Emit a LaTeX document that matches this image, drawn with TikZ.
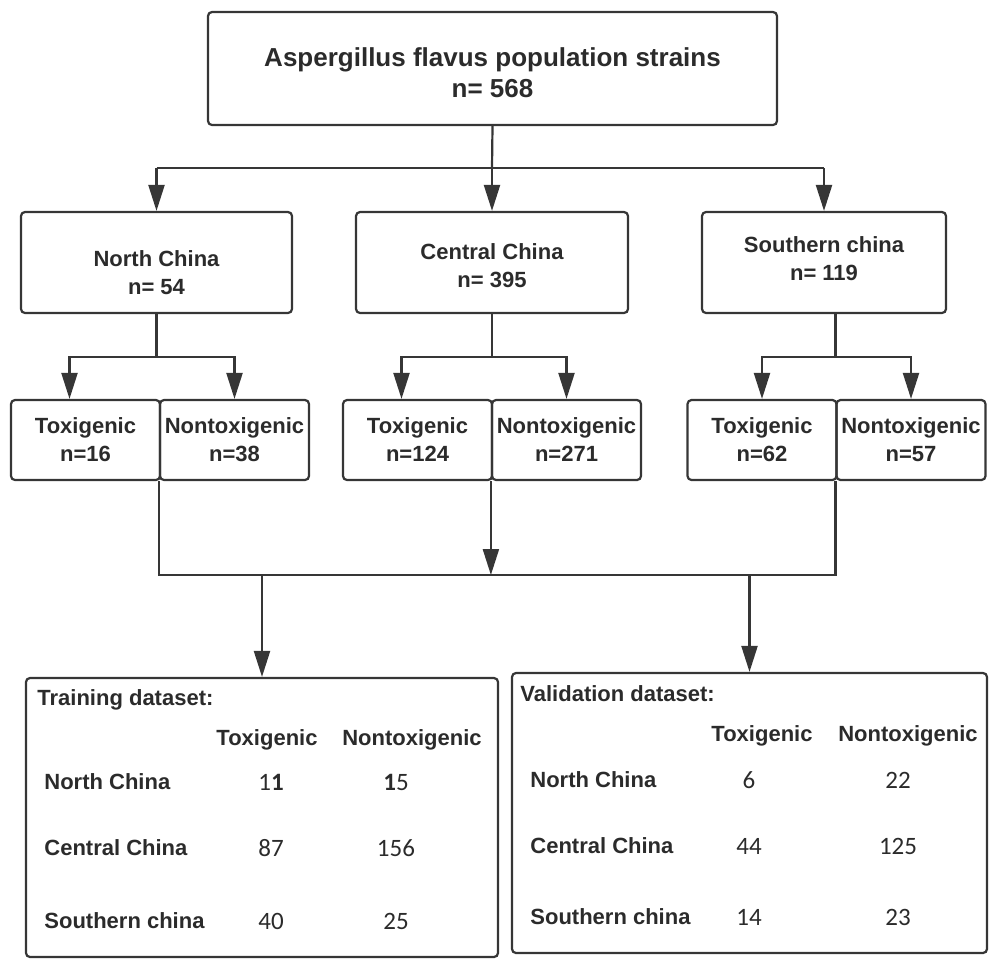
\documentclass[tikz,border=0pt]{standalone}
\usepackage{fontspec}
\setmainfont{Liberation Sans}
\newfontfamily\numfont{Carlito}
\definecolor{ink}{HTML}{2B2B2B}
\definecolor{frame}{HTML}{363636}
\usetikzlibrary{arrows.meta}

\begin{document}
\begin{tikzpicture}[x=0.5pt,y=-0.5pt,
    box/.style={draw=frame,line width=1.1pt,rounded corners=2pt,align=center,text=ink,
      font=\bfseries\fontsize{11}{14}\selectfont,inner sep=0pt},
    sub/.style={box,minimum width=74.5pt,minimum height=40pt},
    region/.style={box,minimum height=50.5pt},
    link/.style={draw=frame,line width=1.1pt},
    flow/.style={link,-{Triangle[length=13pt,width=8pt]}},
    lab/.style={text=ink,font=\bfseries\fontsize{11}{13}\selectfont,inner sep=0pt},
    num/.style={text=ink,font=\numfont\fontsize{12.5}{14}\selectfont,inner sep=0pt}]
        \useasboundingbox (0,0) rectangle (1000,970);
        % top level
        \node[box,minimum width=284.5pt,minimum height=56.5pt] (pop) at (492.5,68.5) {};
        \node[lab,align=center,font=\bfseries\fontsize{13}{15.5}\selectfont] (poptxt) at (492.5,73)
          {Aspergillus flavus population strains\\n= 568};
        \node[region,minimum width=135.5pt] (north) at (156.5,262.5) {};
        \node[region,minimum width=136pt] (central) at (492,262.5) {};
        \node[region,minimum width=122pt] (south) at (824,262.5) {};
        \node[lab,align=center,font=\bfseries\fontsize{11}{14}\selectfont] (northtxt) at (156.5,273) {North China\\n= 54};
        \node[lab,align=center,font=\bfseries\fontsize{11}{14}\selectfont] (centraltxt) at (492,266) {Central China\\n= 395};
        \node[lab,align=center,font=\bfseries\fontsize{11}{14}\selectfont] (southtxt) at (824,259) {Southern china\\n= 119};
        \node[sub] (ntox) at (85.5,440) {Toxigenic\\n=16};
        \node[sub] (nnon) at (234.5,440) {Nontoxigenic\\n=38};
        \node[sub] (ctox) at (417.5,440) {Toxigenic\\n=124};
        \node[sub] (cnon) at (566.5,440) {Nontoxigenic\\n=271};
        \node[sub] (stox) at (762,440) {Toxigenic\\n=62};
        \node[sub] (snon) at (911,440) {Nontoxigenic\\n=57};
        \node[box,minimum width=236pt,minimum height=139.5pt] (train) at (262,817.5) {};
        \node[box,minimum width=237.5pt,minimum height=140pt] (valid) at (749.5,813) {};
        % connectors
        \coordinate (split) at (492,168);
        \coordinate (lvl) at (0,357);
        \coordinate (mrg) at (0,575);
        \draw[link] (pop.south) -- (split);
        \draw[link] (north.north |- split) -- (south.north |- split);
        \foreach \r in {north,central,south}
          \draw[flow] (\r.north |- split) -- (\r.north);
        \foreach \r/\f/\a/\b/\s in {north/north.south/ntox/nnon/-8,central/central.south/ctox/cnon/-8,
            south/snon.west/stox/snon/0} {
          \draw[link] (\r.south -| \f) -- (\f |- lvl);
          \draw[flow] (\f |- lvl) -| ([xshift=\s]\a.north);
          \draw[flow] (\f |- lvl) -| (\b.north);
        }
        \draw[link] (nnon.south west) -- (nnon.south west |- mrg) -- (snon.south west |- mrg) -- (snon.south west);
        \draw[flow] (cnon.south west) -- (cnon.south west |- mrg);
        \draw[flow] (train.north |- mrg) -- (train.north);
        \draw[flow] (valid.north |- mrg) -- (valid.north);
        % training table
        \node[lab,anchor=west] (trtitle) at (37,700) {Training dataset:};
        \node[lab] (trtox) at (267,740) {Toxigenic};
        \node[lab] (trnon) at (412,740) {Nontoxigenic};
        \foreach \i/\reg/\y/\t/\n in {1/North China/782/{1\textbf{1}}/{\textbf{1}5},
            2/Central China/848/87/156,3/Southern china/921/40/25} {
          \node[lab,anchor=west] (trrow\i) at (44,\y) {\reg};
          \node[num] (trt\i) at (271,\y) {\t};
          \node[num] (trn\i) at (396,\y) {\n};
        }
        % validation table
        \node[lab,anchor=west] (vatitle) at (520,694) {Validation dataset:};
        \node[lab] (vatox) at (762,736) {Toxigenic};
        \node[lab] (vanon) at (908,736) {Nontoxigenic};
        \foreach \i/\reg/\y/\t/\n in {1/North China/780/6/22,
            2/Central China/846/44/125,3/Southern china/917/14/23} {
          \node[lab,anchor=west] (varow\i) at (530,\y) {\reg};
          \node[num] (vat\i) at (749,\y) {\t};
          \node[num] (van\i) at (898,\y) {\n};
        }
      \end{tikzpicture}
\end{document}
